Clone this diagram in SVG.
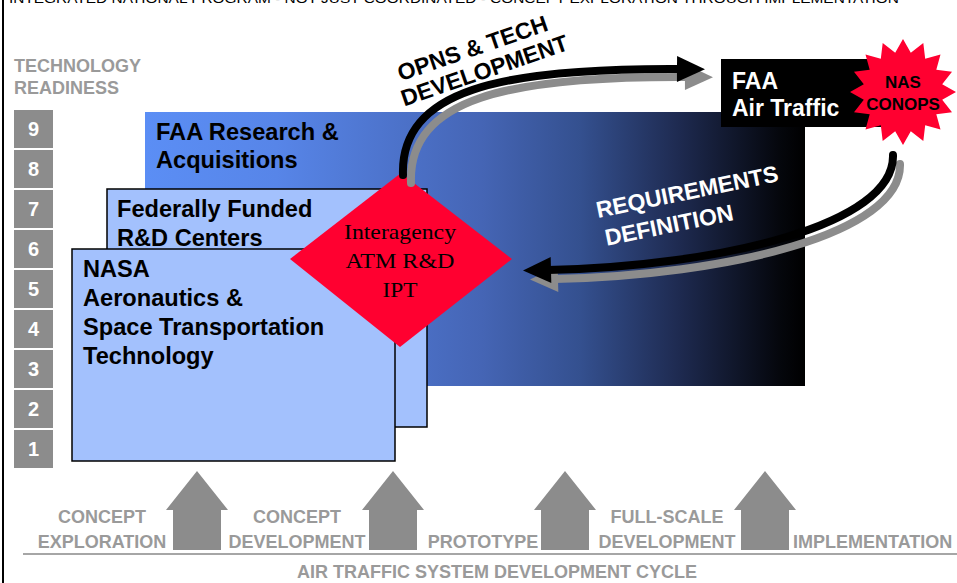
<svg xmlns="http://www.w3.org/2000/svg" width="957" height="583" viewBox="0 0 957 583">
<style>
.sans{font-family:"Liberation Sans",Arial,sans-serif;font-weight:bold}
.serif{font-family:"Liberation Serif","Times New Roman",serif}
.gray{fill:#9a9a9a}
.num{fill:#fff;font-size:20px;text-anchor:middle}
.numbox{fill:#8c8c8c}
.box{fill:#a3c1fd;stroke:#000;stroke-width:1.5}
.btxt{font-size:23.6px;fill:#000}
.stage{font-size:18px;text-anchor:middle}
.k{fill:none;stroke:#000;stroke-width:8;stroke-linecap:round}
.g{fill:none;stroke:#8c8c8c;stroke-width:8;stroke-linecap:round}
</style>
<defs>
<linearGradient id="faaGrad" x1="0" y1="0" x2="1" y2="0">
<stop offset="0" stop-color="#5b8ef5"/>
<stop offset="0.2" stop-color="#5785e8"/>
<stop offset="0.51" stop-color="#4565b5"/>
<stop offset="0.66" stop-color="#34508f"/>
<stop offset="0.81" stop-color="#1e2a50"/>
<stop offset="0.96" stop-color="#05070d"/>
<stop offset="1" stop-color="#000"/>
</linearGradient>
<marker id="headK" markerUnits="userSpaceOnUse" markerWidth="30" markerHeight="30" refX="3" refY="13" orient="auto" overflow="visible"><path d="M0,0 L28,13 L0,26 Z" fill="#000"/></marker>
<marker id="headG" markerUnits="userSpaceOnUse" markerWidth="30" markerHeight="30" refX="3" refY="13" orient="auto" overflow="visible"><path d="M0,0 L28,13 L0,26 Z" fill="#8c8c8c"/></marker>
<path id="uparrow" d="M-24,550 L-24,510 L-31,510 L0,471 L31,510 L24,510 L24,550 Z" fill="#8c8c8c"/>
</defs>

<rect x="0" y="0" width="957" height="583" fill="#fff"/>
<rect x="2" y="0" width="2" height="583" fill="#000"/>
<text x="9" y="2.5" font-family="Liberation Sans, Arial, sans-serif" font-size="13" textLength="890" lengthAdjust="spacingAndGlyphs">INTEGRATED NATIONAL PROGRAM - NOT JUST COORDINATED - CONCEPT EXPLORATION THROUGH IMPLEMENTATION</text>

<g id="readiness">
<text class="sans gray" x="14" y="72" font-size="18">TECHNOLOGY</text>
<text class="sans gray" x="14" y="94" font-size="18">READINESS</text>
<rect class="numbox" x="14" y="110" width="39" height="38"/>
<rect class="numbox" x="14" y="150" width="39" height="38"/>
<rect class="numbox" x="14" y="190" width="39" height="38"/>
<rect class="numbox" x="14" y="230" width="39" height="38"/>
<rect class="numbox" x="14" y="270" width="39" height="38"/>
<rect class="numbox" x="14" y="310" width="39" height="38"/>
<rect class="numbox" x="14" y="350" width="39" height="38"/>
<rect class="numbox" x="14" y="390" width="39" height="38"/>
<rect class="numbox" x="14" y="430" width="39" height="38"/>
<text class="sans num" x="33.5" y="136">9</text>
<text class="sans num" x="33.5" y="176">8</text>
<text class="sans num" x="33.5" y="216">7</text>
<text class="sans num" x="33.5" y="256">6</text>
<text class="sans num" x="33.5" y="296">5</text>
<text class="sans num" x="33.5" y="336">4</text>
<text class="sans num" x="33.5" y="376">3</text>
<text class="sans num" x="33.5" y="416">2</text>
<text class="sans num" x="33.5" y="456">1</text>
</g>

<g id="faa-research">
<rect x="145" y="112" width="660" height="274" fill="url(#faaGrad)"/>
<text class="sans btxt" x="156" y="140">FAA Research &amp;</text>
<text class="sans btxt" x="156" y="168">Acquisitions</text>
</g>

<g id="ffrdc">
<rect class="box" x="107" y="189" width="320" height="238"/>
<text class="sans btxt" x="117" y="217">Federally Funded</text>
<text class="sans btxt" x="117" y="246">R&amp;D Centers</text>
</g>

<g id="nasa">
<rect class="box" x="72" y="249" width="323" height="212"/>
<text class="sans btxt" x="83" y="277">NASA</text>
<text class="sans btxt" x="83" y="306">Aeronautics &amp;</text>
<text class="sans btxt" x="83" y="335">Space Transportation</text>
<text class="sans btxt" x="83" y="364">Technology</text>
</g>

<g id="ipt">
<polygon points="401,173 512,259 400,347 290,259" fill="#ff0030"/>
<text class="serif" x="400" y="239" font-size="21" text-anchor="middle" textLength="112" lengthAdjust="spacingAndGlyphs">Interagency</text>
<text class="serif" x="400" y="268" font-size="21" text-anchor="middle" textLength="109" lengthAdjust="spacingAndGlyphs">ATM R&amp;D</text>
<text class="serif" x="400" y="297" font-size="21" text-anchor="middle" textLength="35" lengthAdjust="spacingAndGlyphs">IPT</text>
</g>

<g id="faa-air-traffic">
<rect x="721" y="59" width="160" height="68" fill="#000"/>
<text class="sans" x="732" y="89" font-size="23" fill="#fff">FAA</text>
<text class="sans" x="732" y="116" font-size="23" fill="#fff">Air Traffic</text>
</g>

<g id="nas-conops">
<polygon fill="#ff0030" points="903,39 910.8,52.8 923.3,43 925.2,58.7 940.5,54.5 936.3,69.8 952,71.7 942.2,84.2 956,92 942.2,99.8 952,112.3 936.3,114.2 940.5,129.5 925.2,125.3 923.3,141 910.8,131.2 903,145 895.2,131.2 882.7,141 880.8,125.3 865.5,129.5 869.7,114.2 854,112.3 863.8,99.8 850,92 863.8,84.2 854,71.7 869.7,69.8 865.5,54.5 880.8,58.7 882.7,43 895.2,52.8"/>
<text class="sans" x="903" y="88" font-size="17" text-anchor="middle">NAS</text>
<text class="sans" x="903" y="110" font-size="17" text-anchor="middle">CONOPS</text>
</g>

<g id="connectors">
<path class="g" d="M411,183 C408,98 508,76 688,77" marker-end="url(#headG)"/>
<path class="k" d="M403,175 C400,90 500,68 680,69" marker-end="url(#headK)"/>
<path class="g" d="M900,164 C902,234 727,275 555,279" marker-end="url(#headG)"/>
<path class="k" d="M893,155 C895,225 720,266 548,270" marker-end="url(#headK)"/>
</g>

<g id="arrow-labels">
<g transform="translate(487,78) rotate(-19)">
<text class="sans" x="-4" y="-25" font-size="23" text-anchor="middle">OPNS &amp; TECH</text>
<text class="sans" x="0" y="0" font-size="23" text-anchor="middle">DEVELOPMENT</text>
</g>
<g transform="translate(598,218) rotate(-11.5)">
<text class="sans" x="0" y="0" font-size="23" fill="#fff">REQUIREMENTS</text>
<text class="sans" x="3" y="29" font-size="23" fill="#fff">DEFINITION</text>
</g>
</g>

<g id="cycle">
<use href="#uparrow" x="197"/>
<use href="#uparrow" x="393"/>
<use href="#uparrow" x="565"/>
<use href="#uparrow" x="765"/>
<line x1="23" y1="554" x2="957" y2="554" stroke="#a6a6a6" stroke-width="2"/>
<text class="sans gray stage" x="102" y="523">CONCEPT</text>
<text class="sans gray stage" x="102" y="548">EXPLORATION</text>
<text class="sans gray stage" x="297" y="523">CONCEPT</text>
<text class="sans gray stage" x="297" y="548">DEVELOPMENT</text>
<text class="sans gray stage" x="483" y="548">PROTOTYPE</text>
<text class="sans gray stage" x="667" y="523">FULL-SCALE</text>
<text class="sans gray stage" x="667" y="548">DEVELOPMENT</text>
<text class="sans gray" x="793" y="548" font-size="18">IMPLEMENTATION</text>
<text class="sans gray stage" x="497" y="578">AIR TRAFFIC SYSTEM DEVELOPMENT CYCLE</text>
</g>
</svg>
